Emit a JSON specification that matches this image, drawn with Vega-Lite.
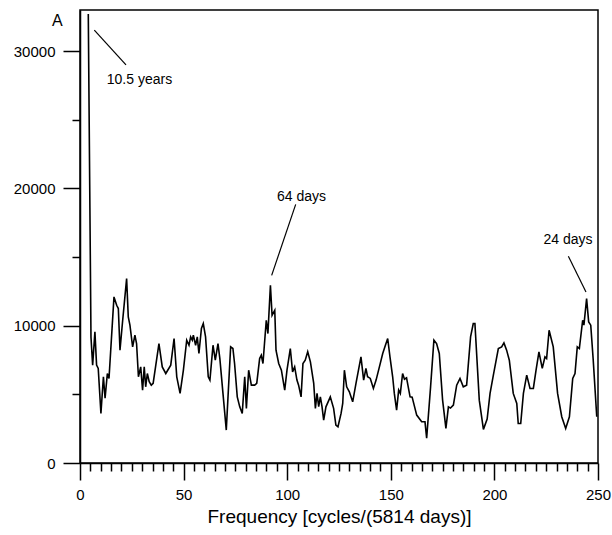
{
  "$schema": "https://vega.github.io/schema/vega-lite/v6.json",
  "width": 518,
  "height": 453,
  "autosize": "none",
  "padding": {"left": 80, "top": 10, "right": 14, "bottom": 72},
  "background": "white",
  "config": {
    "view": {"stroke": "black", "strokeWidth": 1.5},
    "font": "Liberation Sans",
    "axis": {
      "grid": false,
      "domainColor": "black",
      "domainWidth": 1.5,
      "tickColor": "black",
      "tickWidth": 1.5,
      "labelColor": "black",
      "labelFont": "Liberation Sans",
      "labelFontSize": 15,
      "titleColor": "black",
      "titleFont": "Liberation Sans",
      "titleFontWeight": "normal"
    }
  },
  "datasets": {
    "spectrum": [
      {"f": 4.0, "power": 32700},
      {"f": 5.3, "power": 9160},
      {"f": 6.1, "power": 7130},
      {"f": 7.2, "power": 9550},
      {"f": 8.0, "power": 7130},
      {"f": 8.8, "power": 6890},
      {"f": 10.1, "power": 3610},
      {"f": 11.3, "power": 6280},
      {"f": 12.1, "power": 4720},
      {"f": 13.2, "power": 6520},
      {"f": 14.0, "power": 6160},
      {"f": 16.4, "power": 12100},
      {"f": 17.7, "power": 11490},
      {"f": 18.5, "power": 11250},
      {"f": 19.3, "power": 8220},
      {"f": 20.6, "power": 10400},
      {"f": 22.5, "power": 13430},
      {"f": 23.3, "power": 10640},
      {"f": 24.1, "power": 10040},
      {"f": 25.4, "power": 8460},
      {"f": 26.5, "power": 9310},
      {"f": 27.3, "power": 8700},
      {"f": 28.2, "power": 6280},
      {"f": 29.3, "power": 7000},
      {"f": 30.2, "power": 5310},
      {"f": 31.0, "power": 7000},
      {"f": 31.7, "power": 5550},
      {"f": 32.5, "power": 6520},
      {"f": 33.4, "power": 5920},
      {"f": 34.4, "power": 5670},
      {"f": 35.3, "power": 5800},
      {"f": 38.1, "power": 8700},
      {"f": 39.7, "power": 7000},
      {"f": 41.4, "power": 6520},
      {"f": 43.8, "power": 7130},
      {"f": 45.4, "power": 9070},
      {"f": 46.7, "power": 6280},
      {"f": 48.3, "power": 5070},
      {"f": 49.9, "power": 6760},
      {"f": 51.5, "power": 8950},
      {"f": 52.6, "power": 8580},
      {"f": 53.4, "power": 9190},
      {"f": 54.2, "power": 8950},
      {"f": 54.7, "power": 9310},
      {"f": 55.8, "power": 8580},
      {"f": 56.6, "power": 9190},
      {"f": 57.4, "power": 7980},
      {"f": 58.6, "power": 9800},
      {"f": 59.5, "power": 10160},
      {"f": 60.6, "power": 9190},
      {"f": 61.9, "power": 6280},
      {"f": 62.7, "power": 6040},
      {"f": 64.2, "power": 8580},
      {"f": 65.3, "power": 7490},
      {"f": 66.6, "power": 8700},
      {"f": 67.5, "power": 7600},
      {"f": 69.0, "power": 5070},
      {"f": 70.6, "power": 2400},
      {"f": 72.7, "power": 8460},
      {"f": 73.8, "power": 8340},
      {"f": 74.6, "power": 7250},
      {"f": 75.9, "power": 4820},
      {"f": 77.1, "power": 4090},
      {"f": 78.3, "power": 3610},
      {"f": 79.5, "power": 6280},
      {"f": 80.3, "power": 3980},
      {"f": 81.4, "power": 6760},
      {"f": 82.7, "power": 5670},
      {"f": 84.3, "power": 5670},
      {"f": 85.3, "power": 5800},
      {"f": 86.7, "power": 7610},
      {"f": 87.5, "power": 7850},
      {"f": 88.3, "power": 7250},
      {"f": 89.9, "power": 10400},
      {"f": 90.7, "power": 9430},
      {"f": 91.9, "power": 12950},
      {"f": 92.7, "power": 10760},
      {"f": 94.0, "power": 11130},
      {"f": 94.6, "power": 8220},
      {"f": 95.9, "power": 7250},
      {"f": 97.2, "power": 6760},
      {"f": 98.8, "power": 5310},
      {"f": 99.9, "power": 6760},
      {"f": 101.5, "power": 8340},
      {"f": 102.6, "power": 6640},
      {"f": 103.6, "power": 7000},
      {"f": 104.7, "power": 6040},
      {"f": 105.5, "power": 5670},
      {"f": 106.7, "power": 4820},
      {"f": 107.6, "power": 7250},
      {"f": 108.7, "power": 7490},
      {"f": 109.9, "power": 8100},
      {"f": 111.2, "power": 7370},
      {"f": 112.8, "power": 5800},
      {"f": 113.6, "power": 3980},
      {"f": 114.4, "power": 5070},
      {"f": 115.2, "power": 4100},
      {"f": 116.0, "power": 4820},
      {"f": 116.8, "power": 4100},
      {"f": 117.6, "power": 3130},
      {"f": 118.7, "power": 4090},
      {"f": 120.8, "power": 4820},
      {"f": 122.4, "power": 3980},
      {"f": 123.5, "power": 2760},
      {"f": 124.5, "power": 2640},
      {"f": 126.0, "power": 3610},
      {"f": 126.8, "power": 4340},
      {"f": 127.6, "power": 6760},
      {"f": 128.7, "power": 5550},
      {"f": 130.0, "power": 5190},
      {"f": 131.6, "power": 4460},
      {"f": 133.2, "power": 5800},
      {"f": 135.6, "power": 7730},
      {"f": 136.9, "power": 6040},
      {"f": 138.0, "power": 6890},
      {"f": 138.8, "power": 6280},
      {"f": 140.1, "power": 6160},
      {"f": 141.6, "power": 5430},
      {"f": 142.9, "power": 6040},
      {"f": 144.5, "power": 7000},
      {"f": 146.1, "power": 7980},
      {"f": 147.4, "power": 8580},
      {"f": 148.5, "power": 9070},
      {"f": 149.6, "power": 7730},
      {"f": 150.9, "power": 6280},
      {"f": 151.7, "power": 5070},
      {"f": 152.8, "power": 3850},
      {"f": 153.8, "power": 5310},
      {"f": 154.6, "power": 5070},
      {"f": 155.7, "power": 6520},
      {"f": 156.6, "power": 6100},
      {"f": 157.6, "power": 6200},
      {"f": 159.3, "power": 4820},
      {"f": 160.3, "power": 4800},
      {"f": 162.5, "power": 3490},
      {"f": 164.9, "power": 3000},
      {"f": 166.5, "power": 3000},
      {"f": 167.3, "power": 1800},
      {"f": 169.2, "power": 5550},
      {"f": 170.8, "power": 8950},
      {"f": 172.1, "power": 8700},
      {"f": 173.4, "power": 7980},
      {"f": 175.0, "power": 4580},
      {"f": 176.6, "power": 2520},
      {"f": 177.8, "power": 4090},
      {"f": 178.8, "power": 4000},
      {"f": 180.2, "power": 4220},
      {"f": 181.8, "power": 5670},
      {"f": 183.4, "power": 6160},
      {"f": 185.0, "power": 5550},
      {"f": 186.6, "power": 5670},
      {"f": 188.5, "power": 9190},
      {"f": 189.8, "power": 10160},
      {"f": 190.6, "power": 10160},
      {"f": 192.7, "power": 4580},
      {"f": 194.7, "power": 2450},
      {"f": 196.5, "power": 3200},
      {"f": 197.9, "power": 5070},
      {"f": 199.5, "power": 6400},
      {"f": 201.9, "power": 8340},
      {"f": 203.5, "power": 8460},
      {"f": 204.6, "power": 8750},
      {"f": 205.9, "power": 8220},
      {"f": 207.2, "power": 7490},
      {"f": 209.1, "power": 5070},
      {"f": 210.8, "power": 4340},
      {"f": 211.5, "power": 2880},
      {"f": 212.7, "power": 2880},
      {"f": 214.0, "power": 5070},
      {"f": 215.6, "power": 6400},
      {"f": 217.2, "power": 5430},
      {"f": 218.8, "power": 5430},
      {"f": 220.1, "power": 6760},
      {"f": 221.5, "power": 8100},
      {"f": 223.1, "power": 6890},
      {"f": 224.4, "power": 7730},
      {"f": 225.2, "power": 7610},
      {"f": 226.4, "power": 9670},
      {"f": 228.4, "power": 8460},
      {"f": 230.5, "power": 5070},
      {"f": 232.5, "power": 3370},
      {"f": 234.4, "power": 2520},
      {"f": 236.2, "power": 3370},
      {"f": 237.8, "power": 6160},
      {"f": 238.9, "power": 6520},
      {"f": 240.0, "power": 8460},
      {"f": 241.0, "power": 8340},
      {"f": 242.6, "power": 10400},
      {"f": 243.2, "power": 10040},
      {"f": 244.5, "power": 11980},
      {"f": 245.5, "power": 10280},
      {"f": 246.5, "power": 10040},
      {"f": 247.7, "power": 7490},
      {"f": 249.4, "power": 3370}
    ],
    "pointers": [
      {"f1": 6.9, "p1": 31540, "f2": 22.2, "p2": 29000},
      {"f1": 104.1, "p1": 18840, "f2": 92.5, "p2": 13670},
      {"f1": 235.7, "p1": 15060, "f2": 244.2, "p2": 12460}
    ],
    "notes": [
      {"f": 28.7, "p": 27930, "text": "10.5 years", "size": 14},
      {"f": 106.9, "p": 19370, "text": "64 days", "size": 14},
      {"f": 235.5, "p": 16220, "text": "24 days", "size": 14},
      {"f": -11.0, "p": 32220, "text": "A", "size": 16}
    ]
  },
  "resolve": {"axis": {"x": "independent"}},
  "layer": [
    {
      "data": {"name": "spectrum"},
      "mark": {"type": "line", "color": "black", "strokeWidth": 1.6, "clip": true},
      "encoding": {
        "x": {
          "field": "f",
          "type": "quantitative",
          "scale": {"domain": [0, 250], "nice": false, "zero": false},
          "axis": {
            "orient": "bottom",
            "values": [0, 50, 100, 150, 200, 250],
            "tickSize": 17,
            "labelPadding": 7,
            "labelFlush": false,
            "labelOverlap": false,
            "title": "Frequency [cycles/(5814 days)]",
            "titleFontSize": 19,
            "titlePadding": 5
          }
        },
        "y": {
          "field": "power",
          "type": "quantitative",
          "scale": {"domain": [0, 33000], "nice": false},
          "axis": {
            "values": [0, 5000, 10000, 15000, 20000, 25000, 30000],
            "labelExpr": "datum.value % 10000 === 0 ? format(datum.value, 'd') : ''",
            "tickSize": {"condition": {"test": "datum.value % 10000 === 0", "value": 17}, "value": 8},
            "labelPadding": 8,
            "labelFlush": false,
            "labelOverlap": false,
            "title": null
          }
        }
      }
    },
    {
      "data": {"name": "pointers"},
      "mark": {"type": "rule", "color": "black", "strokeWidth": 1.2},
      "encoding": {
        "x": {
          "field": "f1",
          "type": "quantitative",
          "axis": {
            "orient": "bottom",
            "values": [5,10,15,20,25,30,35,40,45,55,60,65,70,75,80,85,90,95,105,110,115,120,125,130,135,140,145,155,160,165,170,175,180,185,190,195,205,210,215,220,225,230,235,240,245],
            "tickSize": 8,
            "labels": false,
            "domain": false,
            "title": null
          }
        },
        "y": {"field": "p1", "type": "quantitative"},
        "x2": {"field": "f2"},
        "y2": {"field": "p2"}
      }
    },
    {
      "data": {"name": "notes"},
      "mark": {"type": "text", "color": "black", "font": "Liberation Sans", "align": "center", "baseline": "middle"},
      "encoding": {
        "x": {"field": "f", "type": "quantitative", "axis": null},
        "y": {"field": "p", "type": "quantitative"},
        "text": {"field": "text"},
        "size": {"field": "size", "type": "quantitative", "scale": null}
      }
    }
  ]
}
